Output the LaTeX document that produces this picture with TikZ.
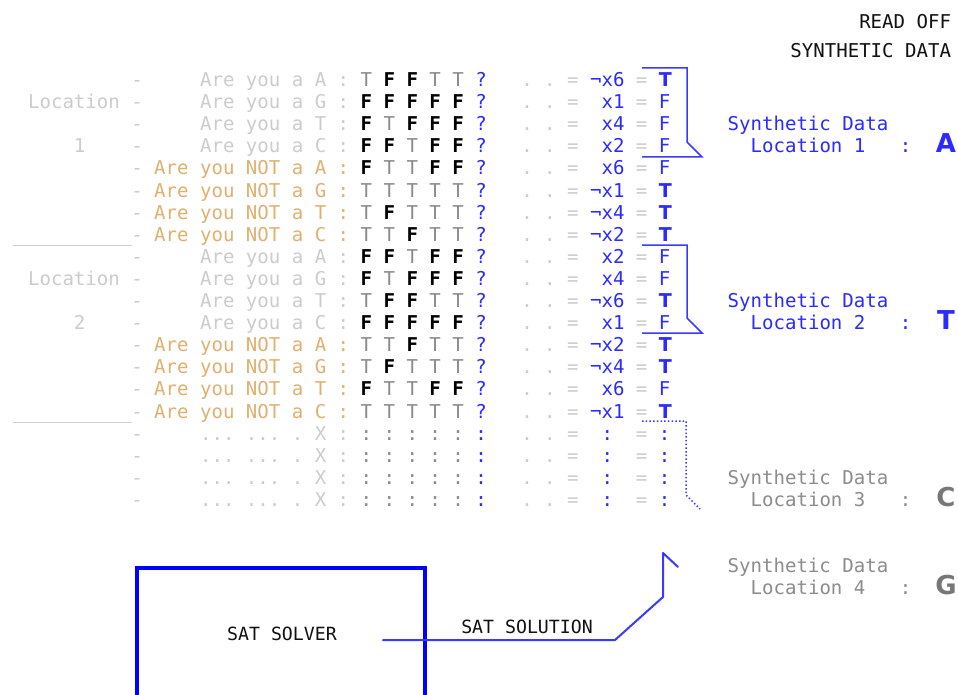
\documentclass[tikz,border=0pt]{standalone}
\usepackage{fontspec}
\setmonofont{DejaVu Sans Mono}
\newfontfamily\bigsans{DejaVu Sans}
\definecolor{lg}{HTML}{CCCCCC}
\definecolor{org}{HTML}{E0B070}
\definecolor{tg}{HTML}{8A8A8A}
\definecolor{bl}{HTML}{2B2BFF}
\definecolor{lbl}{HTML}{3A3AFF}
\definecolor{dk}{HTML}{111111}
\definecolor{gthree}{HTML}{8C8C8C}
\definecolor{gfour}{HTML}{777777}
\newcommand\mainmono{\ttfamily\fontsize{19.05}{22}\selectfont}
\newcommand\mT{\textcolor{tg}{T}}
\newcommand\mF{\textbf{F}}
\newcommand\vT{\textcolor{bl}{{\bigsans\bfseries T}}}
\newcommand\vF{\textcolor{bl}{F}}
\newcommand\qm{\textcolor{bl}{?}}
\newcommand\gpre[1]{\textcolor{lg}{-~~~~~Are~you~a~#1~:}}
\newcommand\opre[1]{\textcolor{lg}{-}~\textcolor{org}{Are~you~NOT~a~#1~:}}
\newcommand\rowtail[7]{~#1~#2~#3~#4~#5~\qm~~~\textcolor{lg}{.~.~=}~\textcolor{bl}{#6}~\textcolor{lg}{=}~#7}
\newcommand\dotrow{\textcolor{lg}{-~~~~~...~...~.~X~:}~\textcolor{tg}{:~:~:~:~:}~\textcolor{bl}{:}~~~\textcolor{lg}{.~.~=}~~\textcolor{bl}{:}~~\textcolor{lg}{=}~\textcolor{bl}{:}}
\begin{document}
\begin{tikzpicture}[x=1pt,y=-1pt,
  rowtxt/.style={anchor=base west, inner sep=0pt, outer sep=0pt, font=\mainmono},
  lefttxt/.style={rowtxt, text=lg},
  bluelbl/.style={rowtxt, text=bl},
  graylbl/.style={rowtxt, text=gthree},
  biglet/.style={anchor=base, inner sep=0pt, outer sep=0pt, font=\bigsans\bfseries\fontsize{26}{30}\selectfont},
  headtxt/.style={anchor=base east, inner sep=0pt, outer sep=0pt, font=\mainmono, text=dk},
  sattxt/.style={anchor=base, inner sep=0pt, outer sep=0pt, font=\ttfamily\fontsize{18.2}{22}\selectfont, text=dk},
  brk/.style={draw=lbl, line width=1.5pt},
  brkdot/.style={draw=lbl, line width=1.5pt, dash pattern=on 1.5pt off 2.2pt},
  sep/.style={draw=lg, line width=1pt},
  satbox/.style={draw=blue, line width=4pt},
  satline/.style={draw=lbl, line width=2pt, line join=round, line cap=round}]
\fill[white] (0,0) rectangle (958,695);
\useasboundingbox (0,0) rectangle (958,695);

% header
\node[headtxt] (h1) at (951,28.3) {READ OFF};
\node[headtxt] (h2) at (951,57.3) {SYNTHETIC DATA};

% left labels
\node[lefttxt] (loc1) at (28.1,108.6) {Location};
\node[lefttxt] (num1) at (73.9,152.8) {1};
\node[lefttxt] (loc2) at (28.1,285.4) {Location};
\node[lefttxt] (num2) at (73.9,329.6) {2};
\draw[sep] (13,245) -- (132,245);
\draw[sep] (13,422) -- (132,422);

% rows
\node[rowtxt] (r1) at (131.3,86.5) {\gpre{A}\rowtail{\mT}{\mF}{\mF}{\mT}{\mT}{¬x6}{\vT}};
\node[rowtxt] (r2) at (131.3,108.6) {\gpre{G}\rowtail{\mF}{\mF}{\mF}{\mF}{\mF}{~x1}{\vF}};
\node[rowtxt] (r3) at (131.3,130.7) {\gpre{T}\rowtail{\mF}{\mT}{\mF}{\mF}{\mF}{~x4}{\vF}};
\node[rowtxt] (r4) at (131.3,152.8) {\gpre{C}\rowtail{\mF}{\mF}{\mT}{\mF}{\mF}{~x2}{\vF}};
\node[rowtxt] (r5) at (131.3,174.9) {\opre{A}\rowtail{\mF}{\mT}{\mT}{\mF}{\mF}{~x6}{\vF}};
\node[rowtxt] (r6) at (131.3,197.0) {\opre{G}\rowtail{\mT}{\mT}{\mT}{\mT}{\mT}{¬x1}{\vT}};
\node[rowtxt] (r7) at (131.3,219.1) {\opre{T}\rowtail{\mT}{\mF}{\mT}{\mT}{\mT}{¬x4}{\vT}};
\node[rowtxt] (r8) at (131.3,241.2) {\opre{C}\rowtail{\mT}{\mT}{\mF}{\mT}{\mT}{¬x2}{\vT}};
\node[rowtxt] (r9) at (131.3,263.3) {\gpre{A}\rowtail{\mF}{\mF}{\mT}{\mF}{\mF}{~x2}{\vF}};
\node[rowtxt] (r10) at (131.3,285.4) {\gpre{G}\rowtail{\mF}{\mT}{\mF}{\mF}{\mF}{~x4}{\vF}};
\node[rowtxt] (r11) at (131.3,307.5) {\gpre{T}\rowtail{\mT}{\mF}{\mF}{\mT}{\mT}{¬x6}{\vT}};
\node[rowtxt] (r12) at (131.3,329.6) {\gpre{C}\rowtail{\mF}{\mF}{\mF}{\mF}{\mF}{~x1}{\vF}};
\node[rowtxt] (r13) at (131.3,351.7) {\opre{A}\rowtail{\mT}{\mT}{\mF}{\mT}{\mT}{¬x2}{\vT}};
\node[rowtxt] (r14) at (131.3,373.8) {\opre{G}\rowtail{\mT}{\mF}{\mT}{\mT}{\mT}{¬x4}{\vT}};
\node[rowtxt] (r15) at (131.3,395.9) {\opre{T}\rowtail{\mF}{\mT}{\mT}{\mF}{\mF}{~x6}{\vF}};
\node[rowtxt] (r16) at (131.3,418.0) {\opre{C}\rowtail{\mT}{\mT}{\mT}{\mT}{\mT}{¬x1}{\vT}};
\node[rowtxt] (r17) at (131.3,440.1) {\dotrow};
\node[rowtxt] (r18) at (131.3,462.2) {\dotrow};
\node[rowtxt] (r19) at (131.3,484.3) {\dotrow};
\node[rowtxt] (r20) at (131.3,506.4) {\dotrow};

% brackets
\coordinate (b1a) at (642,68);  \coordinate (b1b) at (687,68);
\coordinate (b1c) at (687,142); \coordinate (b1d) at (702,157);
\coordinate (b1e) at (642,157);
\draw[brk] (b1a) -- (b1b) -- (b1c) -- (b1d) -- (b1e);
\coordinate (b2a) at (642,245); \coordinate (b2b) at (687,245);
\coordinate (b2c) at (687,318); \coordinate (b2d) at (702,333);
\coordinate (b2e) at (642,333);
\draw[brk] (b2a) -- (b2b) -- (b2c) -- (b2d) -- (b2e);
\coordinate (b3a) at (642,421); \coordinate (b3b) at (686,421);
\coordinate (b3c) at (686,495); \coordinate (b3d) at (700,509);
\draw[brkdot] (b3a) -- (b3b) -- (b3c) -- (b3d);

% right labels
\node[bluelbl] (s1a) at (727.7,130.7) {Synthetic Data};
\node[bluelbl] (s1b) at (750.7,152.8) {Location 1~~~:};
\node[biglet, text=bl] (s1c) at (946,152.8) {A};
\node[bluelbl] (s2a) at (727.7,307.5) {Synthetic Data};
\node[bluelbl] (s2b) at (750.7,329.6) {Location 2~~~:};
\node[biglet, text=bl] (s2c) at (946,329.6) {T};
\node[graylbl] (s3a) at (727.7,484.3) {Synthetic Data};
\node[graylbl] (s3b) at (750.7,506.4) {Location 3~~~:};
\node[biglet, text=gfour] (s3c) at (946,506.4) {C};
\node[graylbl] (s4a) at (727.7,572.7) {Synthetic Data};
\node[graylbl] (s4b) at (750.7,594.8) {Location 4~~~:};
\node[biglet, text=gfour] (s4c) at (946,594.8) {G};

% SAT solver
\draw[satbox] (137,700) -- (137,568) -- (425,568) -- (425,700);
\node[sattxt] (solver) at (282,640) {SAT SOLVER};
\coordinate (p0) at (383,640);
\coordinate (p1) at (615,640);
\coordinate (p2) at (663,597);
\coordinate (p3) at (663,553);
\coordinate (p4) at (678,567);
\draw[satline] (p0) -- (p1) -- (p2) -- (p3) -- (p4);
\node[sattxt] (solution) at (527,633) {SAT SOLUTION};
\end{tikzpicture}
\end{document}
